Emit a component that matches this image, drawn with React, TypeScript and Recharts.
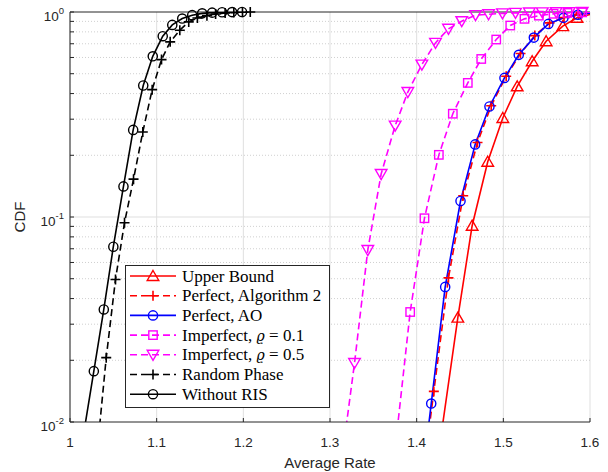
import React from "react";
import {
  LineChart,
  Line,
  XAxis,
  YAxis,
  CartesianGrid,
  ReferenceLine,
  Legend,
} from "recharts";

const rateTicks = [1, 1.1, 1.2, 1.3, 1.4, 1.5, 1.6];
const cdfDecades = [0.01, 0.1, 1];
const cdfMinor = [
  0.02, 0.03, 0.04, 0.05, 0.06, 0.07, 0.08, 0.09, 0.2, 0.3, 0.4, 0.5, 0.6, 0.7,
  0.8, 0.9,
];
const decadeLabels: Record<string, string> = { "0.01": "-2", "0.1": "-1", "1": "0" };

// Upper Bound
const upperX = [1.428, 1.4475, 1.464, 1.482, 1.4994, 1.516, 1.5333, 1.5494, 1.5686, 1.585, 1.601];
const upperY = [0.0085, 0.0323, 0.0907, 0.186, 0.304, 0.434, 0.575, 0.72, 0.853, 0.937, 0.975];

// Perfect, Algorithm 2
const algX = [1.403, 1.4198, 1.4367, 1.4537, 1.4702, 1.486, 1.5033, 1.5198, 1.5363, 1.5533, 1.57, 1.587, 1.604];
const algY = [0.0039, 0.0141, 0.0505, 0.127, 0.231, 0.349, 0.486, 0.627, 0.767, 0.885, 0.94, 0.972, 0.99];

// Perfect, AO
const aoX = [1.4008, 1.4168, 1.4329, 1.4506, 1.4675, 1.484, 1.5013, 1.5178, 1.5352, 1.552, 1.5694, 1.586, 1.603];
const aoY = [0.0033, 0.0123, 0.0456, 0.1197, 0.226, 0.346, 0.477, 0.618, 0.75, 0.875, 0.937, 0.97, 0.99];

// Imperfect, rho = 0.1
const imp1X = [1.376, 1.3925, 1.409, 1.4256, 1.4417, 1.459, 1.4745, 1.4918, 1.508, 1.5244, 1.541, 1.558, 1.574, 1.591, 1.607];
const imp1Y = [0.008, 0.0344, 0.0986, 0.201, 0.319, 0.451, 0.59, 0.734, 0.859, 0.926, 0.96, 0.98, 0.99, 0.996, 1.0];

// Imperfect, rho = 0.5
const imp5X = [1.3135, 1.3283, 1.3436, 1.359, 1.3752, 1.3898, 1.406, 1.4217, 1.4367, 1.452, 1.4679, 1.483, 1.499, 1.514, 1.53, 1.545, 1.561, 1.576, 1.591];
const imp5Y = [0.0065, 0.0194, 0.069, 0.162, 0.279, 0.407, 0.554, 0.707, 0.828, 0.902, 0.965, 0.975, 0.985, 0.99, 0.994, 0.996, 0.998, 0.999, 1.0];

// Random Phase
const randX = [1.033, 1.0418, 1.0525, 1.0629, 1.0733, 1.084, 1.0948, 1.1056, 1.1156, 1.1267, 1.137, 1.147, 1.158, 1.168, 1.179, 1.189, 1.199, 1.208];
const randY = [0.0085, 0.0206, 0.0496, 0.0938, 0.153, 0.26, 0.418, 0.586, 0.715, 0.815, 0.895, 0.935, 0.96, 0.977, 0.988, 0.995, 0.998, 1.0];

// Without RIS
const noRisX = [1.016, 1.0275, 1.039, 1.05, 1.0617, 1.0729, 1.0845, 1.0955, 1.107, 1.118, 1.1295, 1.141, 1.1525, 1.164, 1.1755, 1.187, 1.1985];
const noRisY = [0.0089, 0.0177, 0.0354, 0.0716, 0.141, 0.266, 0.438, 0.608, 0.762, 0.865, 0.929, 0.965, 0.985, 0.993, 0.997, 0.999, 1.0];

type Kind = "triUp" | "plus" | "circle" | "square" | "triDown";

const series: { name: string; xs: number[]; ys: number[]; color: string; dashed: boolean; marker: Kind }[] = [
  { name: "Upper Bound", xs: upperX, ys: upperY, color: "#ff0000", dashed: false, marker: "triUp" },
  { name: "Perfect, Algorithm 2", xs: algX, ys: algY, color: "#ff0000", dashed: true, marker: "plus" },
  { name: "Perfect, AO", xs: aoX, ys: aoY, color: "#0000ff", dashed: false, marker: "circle" },
  { name: "Imperfect, ϱ = 0.1", xs: imp1X, ys: imp1Y, color: "#ff00ff", dashed: true, marker: "square" },
  { name: "Imperfect, ϱ = 0.5", xs: imp5X, ys: imp5Y, color: "#ff00ff", dashed: true, marker: "triDown" },
  { name: "Random Phase", xs: randX, ys: randY, color: "#000000", dashed: true, marker: "plus" },
  { name: "Without RIS", xs: noRisX, ys: noRisY, color: "#000000", dashed: false, marker: "circle" },
];

const DASH = "7 4";
const AXIS = "#262626";
const SANS = "'Liberation Sans', Arial, sans-serif";
const SERIF = "'Liberation Serif', 'Times New Roman', serif";

function Marker({ kind, cx, cy, color }: { kind: Kind; cx: number; cy: number; color: string }) {
  const s = { fill: "none", stroke: color, strokeWidth: 1.4 };
  if (kind === "circle") return <circle cx={cx} cy={cy} r={4.6} {...s} />;
  if (kind === "square") return <rect x={cx - 4.2} y={cy - 4.2} width={8.4} height={8.4} {...s} />;
  if (kind === "triUp")
    return <polygon points={`${cx},${cy - 5.5} ${cx + 5.8},${cy + 4.5} ${cx - 5.8},${cy + 4.5}`} {...s} />;
  if (kind === "triDown")
    return <polygon points={`${cx},${cy + 5.5} ${cx + 5.8},${cy - 4.5} ${cx - 5.8},${cy - 4.5}`} {...s} />;
  return <path d={`M${cx - 5},${cy}H${cx + 5}M${cx},${cy - 5}V${cy + 5}`} {...s} strokeWidth={1.6} />;
}

const YTick = (props: any) => {
  const { x, y, payload } = props;
  const exp = decadeLabels[String(payload.value)];
  if (exp === undefined) return <g />;
  return (
    <text x={x} y={y + 9} textAnchor="end" fill={AXIS} fontFamily={SANS} fontSize={13.5}>
      10
      <tspan dy={-7} fontSize={9.5}>
        {exp}
      </tspan>
    </text>
  );
};

const XTick = (props: any) => {
  const { x, y, payload } = props;
  return (
    <text x={x} y={y} textAnchor="middle" fill={AXIS} fontFamily={SANS} fontSize={13.5}>
      {String(payload.value)}
    </text>
  );
};

const LegendBox = () => (
  <svg width={205} height={143} style={{ display: "block" }}>
    <rect x={0.5} y={0.5} width={204} height={142} fill="#fff" stroke={AXIS} strokeWidth={1} />
    {series.map((s, i) => {
      const y = 11 + i * 19.7;
      return (
        <g key={s.name}>
          <line x1={5} x2={51} y1={y} y2={y} stroke={s.color} strokeWidth={1.6} strokeDasharray={s.dashed ? DASH : undefined} />
          <Marker kind={s.marker} cx={28} cy={y} color={s.color} />
          <text x={57} y={y + 5.5} fontFamily={SERIF} fontSize={17} fill="#000">
            {s.name.includes("ϱ") ? (
              <>
                {s.name.split("ϱ")[0]}
                <tspan fontStyle="italic" fontFamily="'DejaVu Serif', serif" fontSize={14}>ϱ</tspan>
                {s.name.split("ϱ")[1]}
              </>
            ) : (
              s.name
            )}
          </text>
        </g>
      );
    })}
  </svg>
);

export default function App() {
  return (
    <div style={{ position: "absolute", left: 0, top: 0, width: 608, height: 472, background: "#fff" }}>
      <LineChart width={608} height={472} margin={{ top: 12, right: 18, bottom: 0, left: 0 }}>
        <CartesianGrid horizontal={false} stroke="#dfdfdf" strokeWidth={1} />
        <XAxis
          xAxisId={0}
          dataKey="x"
          type="number"
          domain={[1, 1.6]}
          ticks={rateTicks}
          interval={0}
          allowDataOverflow
          height={50}
          stroke={AXIS}
          tickSize={-4}
          tickMargin={29}
          tick={<XTick />}
          label={{
            content: (p: any) => (
              <text
                x={p.viewBox.x + p.viewBox.width / 2}
                y={468}
                textAnchor="middle"
                fill={AXIS}
                fontFamily={SANS}
                fontSize={15}
              >
                Average Rate
              </text>
            ),
          }}
        />
        <YAxis
          yAxisId={0}
          type="number"
          scale="log"
          domain={[0.01, 1]}
          ticks={[...cdfDecades, ...cdfMinor]}
          interval={0}
          allowDataOverflow
          width={70}
          stroke={AXIS}
          tickSize={-4}
          tickMargin={10}
          tick={<YTick />}
          label={{
            content: (p: any) => {
              const cy = p.viewBox.y + p.viewBox.height / 2;
              return (
                <text
                  x={19}
                  y={cy}
                  transform={`rotate(-90, 19, ${cy})`}
                  textAnchor="middle"
                  dominantBaseline="central"
                  fill={AXIS}
                  fontFamily={SANS}
                  fontSize={15}
                >
                  CDF
                </text>
              );
            },
          }}
        />
        <XAxis
          xAxisId="m"
          dataKey="x"
          type="number"
          orientation="top"
          domain={[1, 1.6]}
          ticks={rateTicks}
          interval={0}
          height={0}
          stroke={AXIS}
          tickSize={-4}
          tick={false}
        />
        <YAxis
          yAxisId="m"
          type="number"
          scale="log"
          orientation="right"
          domain={[0.01, 1]}
          ticks={[...cdfDecades, ...cdfMinor]}
          interval={0}
          width={0}
          stroke={AXIS}
          tickSize={-4}
          tick={false}
        />
        <ReferenceLine y={0.1} stroke="#dfdfdf" strokeWidth={1} />
        {cdfMinor.map((v) => (
          <ReferenceLine key={v} y={v} stroke="#c4c4c4" strokeWidth={0.8} strokeDasharray="1 2" />
        ))}
        <ReferenceLine y={1} stroke={AXIS} strokeWidth={1} />
        {series.map((s) => (
          <Line
            key={s.name}
            data={s.xs.map((x, i) => ({ x, y: s.ys[i] }))}
            dataKey="y"
            type="linear"
            stroke={s.color}
            strokeWidth={1.6}
            strokeDasharray={s.dashed ? DASH : undefined}
            dot={false}
            activeDot={false}
            isAnimationActive={false}
            legendType="none"
          />
        ))}
        {series.map((s) => (
          <Line
            key={s.name + "-markers"}
            xAxisId="m"
            yAxisId="m"
            data={s.xs
              .map((x, i) => ({ x, y: s.ys[i] }))
              .filter((d) => d.y >= 0.01 && d.x >= 1 && d.x <= 1.6)}
            dataKey="y"
            stroke="none"
            dot={(p: any) =>
              p.cx == null || p.cy == null ? (
                <g key={p.index} />
              ) : (
                <g key={p.index}>
                  <Marker kind={s.marker} cx={p.cx} cy={p.cy} color={s.color} />
                </g>
              )
            }
            activeDot={false}
            isAnimationActive={false}
            legendType="none"
          />
        ))}
        <Legend
          layout="vertical"
          align="center"
          verticalAlign="middle"
          width={205}
          height={143}
          wrapperStyle={{ left: 125, top: 265, width: 205, height: 143 }}
          content={() => <LegendBox />}
        />
      </LineChart>
    </div>
  );
}
